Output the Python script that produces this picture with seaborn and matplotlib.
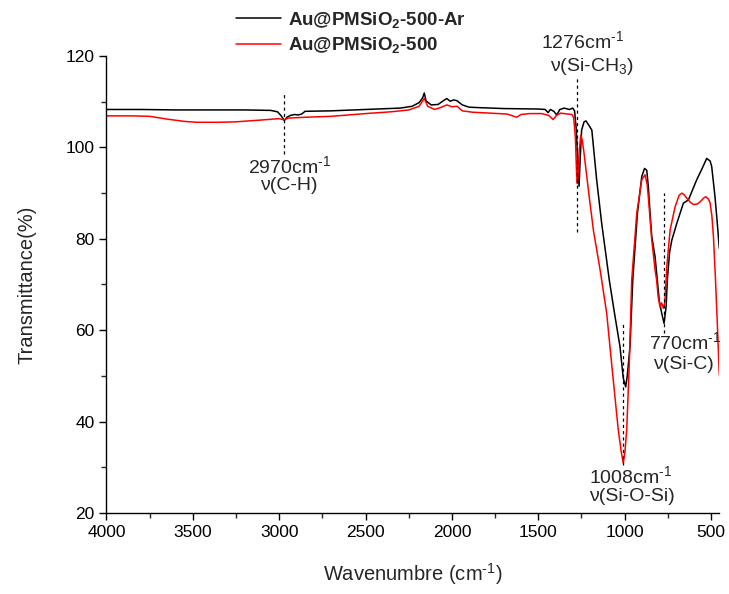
import matplotlib
matplotlib.use("Agg")
import matplotlib.pyplot as plt
import seaborn as sns
import pandas as pd

# ---------------- data ----------------
wn_ar = [4000, 3800, 3600, 3400, 3200, 3050, 3010, 2990, 2970, 2955, 2935, 2910, 2890, 2870,
         2850, 2700, 2500, 2300, 2230, 2190, 2170, 2160, 2150, 2120, 2080, 2050, 2030, 2010,
         1990, 1970, 1940, 1900, 1840, 1700, 1500, 1460, 1443, 1430, 1410, 1393, 1375, 1350,
         1320, 1300, 1290, 1280, 1270, 1264, 1258, 1249, 1235, 1224, 1210, 1190, 1162, 1133,
         1089, 1060, 1027, 1008, 994, 985, 969, 953, 926, 901, 885, 872, 863, 850, 843, 824,
         811, 800, 786, 772, 760, 753, 740, 727, 698, 660, 631, 583, 550, 525, 505, 496, 477,
         465, 452]
tr_ar = [108.3, 108.3, 108.2, 108.2, 108.2, 108.1, 107.8, 107.0, 105.9, 106.6, 107.0, 107.2,
         107.1, 107.3, 107.9, 108.0, 108.3, 108.6, 109.0, 109.8, 110.8, 111.9, 110.2, 109.3,
         109.4, 110.2, 110.7, 110.1, 110.4, 110.2, 109.3, 108.8, 108.7, 108.5, 108.4, 108.3,
         107.6, 108.3, 107.9, 107.1, 108.3, 108.6, 108.3, 108.6, 108.0, 104.0, 95.0, 91.5,
         97.0, 103.8, 105.6, 105.8, 105.0, 103.8, 92.9, 83.4, 71.0, 64.0, 56.4, 49.5, 47.6,
         50.0, 56.4, 71.0, 85.6, 93.6, 95.4, 95.0, 91.4, 84.0, 80.5, 76.1, 71.0, 66.5, 63.8,
         61.5, 65.1, 71.0, 77.0, 79.7, 83.4, 87.8, 88.5, 92.9, 95.5, 97.6, 97.0, 95.8, 89.2,
         84.0, 77.9]

wn_air = [4000, 3850, 3750, 3650, 3550, 3480, 3350, 3250, 3100, 3000, 2970, 2950, 2850, 2700,
          2500, 2350, 2250, 2190, 2160, 2140, 2100, 2060, 2030, 2000, 1970, 1940, 1880, 1780,
          1680, 1640, 1625, 1600, 1550, 1480, 1440, 1414, 1395, 1370, 1330, 1305, 1295, 1285,
          1278, 1274, 1268, 1264, 1254, 1245, 1235, 1210, 1181, 1142, 1104, 1066, 1037, 1020,
          1008, 998, 988, 973, 959, 930, 901, 882, 870, 863, 843, 824, 815, 806, 795, 786, 776,
          768, 760, 756, 737, 708, 685, 669, 655, 640, 620, 602, 580, 563, 540, 530, 515, 505,
          495, 486, 474, 462, 452]
tr_air = [106.9, 106.9, 106.8, 106.2, 105.7, 105.5, 105.5, 105.6, 106.0, 106.3, 106.0, 106.4,
          106.6, 106.8, 107.4, 107.8, 108.2, 109.0, 110.7, 109.0, 108.3, 108.8, 109.3, 108.9,
          109.0, 108.0, 107.7, 107.5, 107.3, 106.8, 106.6, 107.2, 107.4, 107.4, 107.0, 106.1,
          107.0, 107.5, 107.3, 107.2, 106.5, 102.0, 94.0, 92.1, 95.0, 98.7, 102.7, 101.5, 98.7,
          90.7, 81.9, 73.2, 63.7, 49.1, 38.2, 33.5, 30.9, 33.5, 38.2, 52.8, 71.0, 85.6, 92.9,
          94.0, 92.0, 89.2, 79.7, 73.2, 71.0, 67.3, 65.1, 66.0, 64.8, 66.0, 71.0, 73.9, 81.9,
          87.0, 89.5, 90.0, 89.6, 88.9, 88.0, 87.5, 87.6, 88.1, 89.0, 89.2, 88.7, 87.8, 85.0,
          80.5, 71.0, 60.0, 50.2]

series_names = [r"Au@PMSiO$_\mathbf{2}$-500-Ar", r"Au@PMSiO$_\mathbf{2}$-500"]
series_colors = ["#000000", "#ff0000"]

x_ticks = [4000, 3500, 3000, 2500, 2000, 1500, 1000, 500]
y_ticks = [20, 40, 60, 80, 100, 120]

# peak markers: (wavenumber, line bottom, line top)
peak_lines = [(2970, 98.6, 112.2), (1276, 81.5, 115.2), (1008, 30.5, 61.5), (770, 59.4, 90.0)]
# annotation texts: (x, y, text)
peak_texts = [
    (2938, 96.0, "2970cm$^{\u20101}$"), (2945, 91.6, "ν(C-H)"),
    (1242, 123.3, "1276cm$^{\u20101}$"), (1190, 117.6, "ν(Si-CH$_3$)"),
    (968, 28.0, "1008cm$^{\u20101}$"), (958, 23.6, "ν(Si-O-Si)"),
    (648, 57.3, "770cm$^{\u20101}$"), (662, 52.6, "ν(Si-C)"),
]

# ---------------- style ----------------
sns.set_style("ticks")
plt.rcParams["font.family"] = ["Liberation Sans", "DejaVu Sans"]
plt.rcParams["mathtext.fontset"] = "custom"
plt.rcParams["mathtext.rm"] = "Liberation Sans"
plt.rcParams["mathtext.it"] = "Liberation Sans:italic"
plt.rcParams["mathtext.bf"] = "Liberation Sans:bold"

df = pd.concat([
    pd.DataFrame({"wn": wn_ar, "T": tr_ar, "s": series_names[0]}),
    pd.DataFrame({"wn": wn_air, "T": tr_air, "s": series_names[1]}),
])

fig = plt.figure(figsize=(7.29, 5.94), dpi=100)
ax = fig.add_axes([0.146, 0.1364, 0.840, 0.7693])

sns.lineplot(data=df, x="wn", y="T", hue="s", palette=series_colors, estimator=None,
             linewidth=1.1, ax=ax, legend=True)

ax.set_xlim(4000, 455)
ax.set_ylim(20, 120)
ax.set_xticks(x_ticks)
ax.set_yticks(y_ticks)
ax.set_xticks([3750, 3250, 2750, 2250, 1750, 1250, 750], minor=True)
ax.set_yticks([30, 50, 70, 90, 110], minor=True)
ax.tick_params(axis="both", which="major", direction="out", length=5, width=1,
               labelsize=12.5, colors="black")
ax.tick_params(axis="both", which="minor", direction="out", length=3.5, width=1)
for side in ["top", "right"]:
    ax.spines[side].set_visible(False)
for side in ["left", "bottom"]:
    ax.spines[side].set_linewidth(1)
    ax.spines[side].set_color("black")

ax.set_xlabel("Wavenumbre (cm$^{\u20101}$)", fontsize=14.5, labelpad=15)
ax.set_ylabel("Transmittance(%)", fontsize=14.5, labelpad=21)

for w, y0, y1 in peak_lines:
    ax.plot([w, w], [y0, y1], color="black", linestyle=(0, (2.5, 2.5)), linewidth=0.9)
for x, y, t in peak_texts:
    ax.text(x, y, t, fontsize=14, ha="center", va="center", clip_on=False)

handles, labels = ax.get_legend_handles_labels()
ax.legend_.remove()
leg = fig.legend(handles, labels, loc="upper left", bbox_to_anchor=(0.300, 1.012),
                 frameon=False, handlelength=2.4, handletextpad=0.4, labelspacing=0.3,
                 prop={"weight": "bold", "size": 13.5})

fig.savefig("out.png", dpi=100)
